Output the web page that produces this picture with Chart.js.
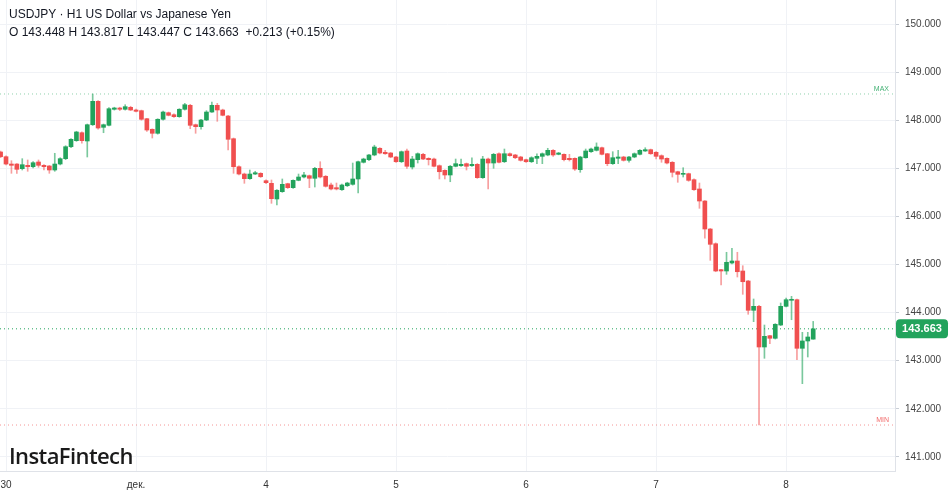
<!DOCTYPE html>
<html>
<head>
<meta charset="utf-8">
<script src="https://cdn.jsdelivr.net/npm/chart.js@4.4.0/dist/chart.umd.min.js"></script>
<style>
  html, body { margin: 0; padding: 0; background: #fff; }
  #wrap { position: relative; width: 949px; height: 494px; overflow: hidden; }
  #c { position: absolute; left: 0; top: 0; }
  .hdr { position: absolute; left: 9px; font: 12px "Liberation Sans", Arial, sans-serif; color: #131722; white-space: pre; }
  #logo { position: absolute; left: 9px; top: 440px; font: 600 22px "Open Sans", sans-serif; letter-spacing: -0.6px; color: #1a1a1a; }
</style>
</head>
<body>
<div id="wrap">
  <canvas id="c" width="949" height="494"></canvas>
  <div class="hdr" style="top:7px">USDJPY · H1 US Dollar vs Japanese Yen</div>
  <div class="hdr" style="top:25px">O 143.448 H 143.817 L 143.447 C 143.663  +0.213 (+0.15%)</div>
  <div id="logo">InstaFintech</div>
</div>
<script>
// --- hourly candles, Nov 30 -> Dec 8 ---
const opens = [
  147.339, 147.241, 147.089, 147.089, 146.992, 147.062, 147.033, 147.131, 147.062, 147.048,
  146.965, 147.089, 147.200, 147.449, 147.574, 147.740, 147.568, 147.906, 148.393, 147.852,
  147.894, 148.227, 148.254, 148.227, 148.268, 148.212, 148.198, 148.031, 147.811, 147.728,
  148.019, 148.156, 148.114, 148.073, 148.227, 148.310, 147.906, 147.865, 148.004, 148.170,
  148.310, 148.212, 148.087, 147.615, 147.033, 146.881, 146.784, 146.881, 146.896, 146.742,
  146.688, 146.362, 146.514, 146.680, 146.597, 146.750, 146.819, 146.846, 146.792, 147.000,
  146.834, 146.653, 146.597, 146.555, 146.638, 146.667, 146.778, 147.125, 147.179, 147.277,
  147.416, 147.333, 147.318, 147.235, 147.137, 147.360, 147.027, 147.179, 147.291, 147.208,
  147.193, 147.054, 146.958, 146.861, 147.042, 147.054, 147.096, 147.054, 147.083, 146.805,
  147.193, 147.110, 147.303, 147.137, 147.303, 147.277, 147.235, 147.179, 147.137, 147.208,
  147.249, 147.277, 147.374, 147.291, 147.291, 147.208, 147.208, 146.971, 147.220, 147.345,
  147.374, 147.428, 147.303, 147.096, 147.208, 147.235, 147.166, 147.235, 147.291, 147.360,
  147.387, 147.333, 147.262, 147.208, 147.125, 146.929, 146.875, 146.888, 146.763, 146.570,
  146.320, 145.738, 145.432, 144.892, 144.865, 145.031, 145.073, 144.865, 144.657, 144.048,
  144.131, 143.285, 143.520, 143.466, 143.742, 144.131, 144.256, 144.268, 143.258, 143.410,
  143.448
];
const highs = [
  147.360, 147.260, 147.158, 147.100, 147.200, 147.173, 147.140, 147.173, 147.080, 147.060,
  147.312, 147.220, 147.470, 147.620, 147.770, 147.760, 147.920, 148.545, 148.410, 147.920,
  148.260, 148.270, 148.270, 148.322, 148.290, 148.230, 148.210, 148.040, 147.820, 148.030,
  148.190, 148.170, 148.130, 148.240, 148.351, 148.330, 147.920, 148.020, 148.198, 148.378,
  148.351, 148.230, 148.100, 147.630, 147.050, 146.900, 146.965, 146.938, 146.910, 146.760,
  146.757, 146.560, 146.778, 146.690, 146.760, 146.881, 146.917, 146.860, 147.020, 147.137,
  146.850, 146.694, 146.694, 146.670, 146.710, 147.110, 147.150, 147.210, 147.290, 147.480,
  147.430, 147.374, 147.330, 147.250, 147.360, 147.401, 147.249, 147.320, 147.310, 147.220,
  147.210, 147.070, 146.970, 147.060, 147.193, 147.193, 147.110, 147.220, 147.100, 147.249,
  147.210, 147.310, 147.320, 147.401, 147.320, 147.290, 147.250, 147.190, 147.240, 147.303,
  147.320, 147.416, 147.390, 147.330, 147.300, 147.290, 147.220, 147.250, 147.401, 147.420,
  147.528, 147.440, 147.310, 147.345, 147.374, 147.250, 147.250, 147.320, 147.390, 147.428,
  147.400, 147.350, 147.280, 147.220, 147.140, 146.940, 147.012, 146.900, 146.780, 146.694,
  146.330, 145.750, 145.450, 144.900, 145.254, 145.337, 145.254, 144.975, 144.670, 144.283,
  144.150, 143.742, 143.530, 143.770, 144.200, 144.300, 144.339, 144.280, 143.590, 143.590,
  143.817
];
const lows = [
  147.220, 147.070, 146.896, 146.896, 146.965, 146.938, 147.010, 147.021, 146.965, 146.896,
  146.938, 147.070, 147.180, 147.430, 147.560, 147.520, 147.235, 147.890, 147.811, 147.740,
  147.880, 148.210, 148.200, 148.210, 148.200, 148.170, 148.000, 147.769, 147.630, 147.710,
  148.000, 148.090, 148.060, 148.060, 148.210, 147.823, 147.728, 147.811, 147.990, 148.160,
  147.977, 148.090, 147.380, 146.896, 146.860, 146.688, 146.770, 146.870, 146.810, 146.680,
  146.272, 146.237, 146.500, 146.580, 146.580, 146.740, 146.800, 146.597, 146.611, 146.800,
  146.610, 146.550, 146.550, 146.540, 146.620, 146.650, 146.486, 147.110, 147.160, 147.260,
  147.300, 147.290, 147.220, 147.120, 147.120, 147.000, 146.985, 147.110, 147.180, 147.069,
  147.030, 146.778, 146.778, 146.721, 147.030, 147.040, 146.965, 147.040, 146.790, 146.790,
  146.570, 147.000, 147.110, 147.120, 147.250, 147.200, 147.150, 147.120, 147.120, 147.096,
  147.096, 147.260, 147.249, 147.280, 147.152, 147.152, 146.958, 146.917, 147.210, 147.330,
  147.360, 147.280, 147.054, 147.080, 147.096, 147.150, 147.125, 147.220, 147.280, 147.350,
  147.290, 147.193, 147.125, 147.090, 146.819, 146.709, 146.819, 146.730, 146.540, 146.168,
  145.545, 145.087, 144.850, 144.574, 144.796, 145.010, 144.740, 144.380, 143.965, 143.811,
  141.663, 143.050, 143.353, 143.450, 143.730, 144.116, 143.852, 143.021, 142.522, 143.077,
  143.447
];
const closes = [
  147.241, 147.089, 147.062, 146.979, 147.075, 147.033, 147.116, 147.062, 147.033, 146.965,
  147.089, 147.200, 147.449, 147.603, 147.755, 147.574, 147.906, 148.393, 147.838, 147.906,
  148.239, 148.254, 148.227, 148.281, 148.212, 148.185, 148.019, 147.796, 147.728, 148.019,
  148.170, 148.102, 148.073, 148.227, 148.322, 147.894, 147.865, 148.004, 148.170, 148.310,
  148.212, 148.102, 147.603, 147.033, 146.881, 146.784, 146.881, 146.908, 146.825, 146.701,
  146.368, 146.543, 146.667, 146.597, 146.750, 146.819, 146.861, 146.792, 147.000, 146.819,
  146.626, 146.570, 146.570, 146.653, 146.694, 146.778, 147.137, 147.193, 147.277, 147.443,
  147.318, 147.303, 147.235, 147.137, 147.345, 147.042, 147.193, 147.303, 147.193, 147.179,
  147.042, 146.929, 146.861, 147.042, 147.096, 147.083, 147.042, 147.083, 146.805, 147.193,
  147.110, 147.291, 147.125, 147.303, 147.262, 147.220, 147.166, 147.137, 147.220, 147.249,
  147.303, 147.374, 147.277, 147.318, 147.179, 147.179, 146.985, 147.235, 147.360, 147.401,
  147.443, 147.291, 147.096, 147.220, 147.235, 147.166, 147.235, 147.303, 147.374, 147.387,
  147.303, 147.249, 147.193, 147.110, 146.917, 146.875, 146.888, 146.750, 146.555, 146.320,
  145.738, 145.420, 144.865, 144.865, 145.046, 145.073, 144.850, 144.642, 144.048, 144.131,
  143.285, 143.507, 143.466, 143.757, 144.131, 144.268, 144.268, 143.258, 143.410, 143.493,
  143.663
];

// day labels sit on the first bar of each session
const dayIdx = [1, 25, 49, 73, 97, 121, 145];
const dayLabels = ['30', 'дек.', '4', '5', '6', '7', '8'];
const yTicks = [141, 142, 143, 144, 145, 146, 147, 148, 149, 150];

// visible window
const xMin = -0.11, xMax = 165.1;
const yMin = 140.707, yMax = 150.499;

const upColor = '#22a35c', downColor = '#f04f4f';
const upWick = 'rgba(34,163,92,0.6)', downWick = 'rgba(240,79,79,0.55)';

const idx = opens.map((_, i) => i);
const isUp = idx.map(i => closes[i] >= opens[i]);
const maxHigh = Math.max(...highs);
const minLow = Math.min(...lows);
const lastClose = closes[closes.length - 1];

const hLine = (v, color) => ({
    type: 'line',
    data: [{ x: xMin, y: v }, { x: xMax, y: v }],
    borderColor: color,
    borderWidth: 1,
    borderDash: [1, 3],
    pointRadius: 0,
    order: 3
});

const overlay = {
    id: 'overlay',
    afterDraw(chart) {
        const { ctx, chartArea, scales } = chart;
        const yHi = scales.y.getPixelForValue(maxHigh);
        const yLo = scales.y.getPixelForValue(minLow);
        const yC = scales.y.getPixelForValue(lastClose);
        ctx.save();
        ctx.font = '7px "Liberation Sans", Arial';
        ctx.textAlign = 'right';
        ctx.textBaseline = 'alphabetic';
        ctx.fillStyle = 'rgba(34,163,92,0.85)';
        ctx.fillText('MAX', chartArea.right - 6, yHi - 3);
        ctx.fillStyle = 'rgba(240,79,79,0.85)';
        ctx.fillText('MIN', chartArea.right - 6, yLo - 3);

        // last price badge
        const bx = chartArea.right + 1, bw = 52, bh = 19;
        ctx.fillStyle = upColor;
        ctx.beginPath();
        ctx.roundRect(bx, yC - bh / 2, bw, bh, 4);
        ctx.fill();
        ctx.fillStyle = '#fff';
        ctx.font = 'bold 11px "Liberation Sans", Arial';
        ctx.textAlign = 'center';
        ctx.textBaseline = 'middle';
        ctx.fillText(lastClose.toFixed(3), bx + bw / 2, yC + 0.5);
        ctx.restore();
    }
};

new Chart(document.getElementById('c'), {
    type: 'bar',
    data: {
        datasets: [
            hLine(maxHigh, 'rgba(34,163,92,0.5)'),
            hLine(minLow, 'rgba(240,79,79,0.6)'),
            hLine(lastClose, upColor),
            {
                label: 'wick',
                data: idx.map(i => ({ x: i, y: [lows[i], highs[i]] })),
                backgroundColor: idx.map(i => isUp[i] ? upWick : downWick),
                barThickness: 1,
                grouped: false,
                order: 2
            },
            {
                label: 'body',
                data: idx.map(i => ({ x: i, y: [opens[i], closes[i]] })),
                backgroundColor: idx.map(i => isUp[i] ? upColor : downColor),
                barThickness: 4,
                minBarLength: 1,
                grouped: false,
                order: 1
            }
        ]
    },
    options: {
        responsive: false,
        devicePixelRatio: 1,
        animation: false,
        layout: { padding: 0 },
        plugins: { legend: { display: false }, tooltip: { enabled: false } },
        scales: {
            x: {
                type: 'linear',
                min: xMin, max: xMax,
                offset: false,
                grid: { color: '#f0f2f6', drawTicks: false, offset: false },
                border: { color: '#dfe2e8' },
                ticks: {
                    autoSkip: false, maxRotation: 0, padding: 8,
                    color: '#333', font: { size: 10, family: '"Liberation Sans", Arial' },
                    callback: (v) => dayLabels[dayIdx.indexOf(v)]
                },
                afterBuildTicks: (s) => { s.ticks = dayIdx.map(v => ({ value: v })); },
                afterFit: (s) => { s.height = 23; s.paddingLeft = 0; s.paddingRight = 0; }
            },
            y: {
                position: 'right',
                min: yMin, max: yMax,
                grid: { color: '#f0f2f6', tickLength: 4, tickColor: '#c9ced6' },
                border: { color: '#dfe2e8' },
                ticks: {
                    padding: 6,
                    color: '#444', font: { size: 10, family: '"Liberation Sans", Arial' },
                    callback: (v) => v.toFixed(3)
                },
                afterBuildTicks: (s) => { s.ticks = yTicks.map(v => ({ value: v })); },
                afterFit: (s) => { s.width = 54; s.paddingTop = 0; s.paddingBottom = 0; }
            }
        }
    },
    plugins: [overlay]
});
</script>
</body>
</html>
